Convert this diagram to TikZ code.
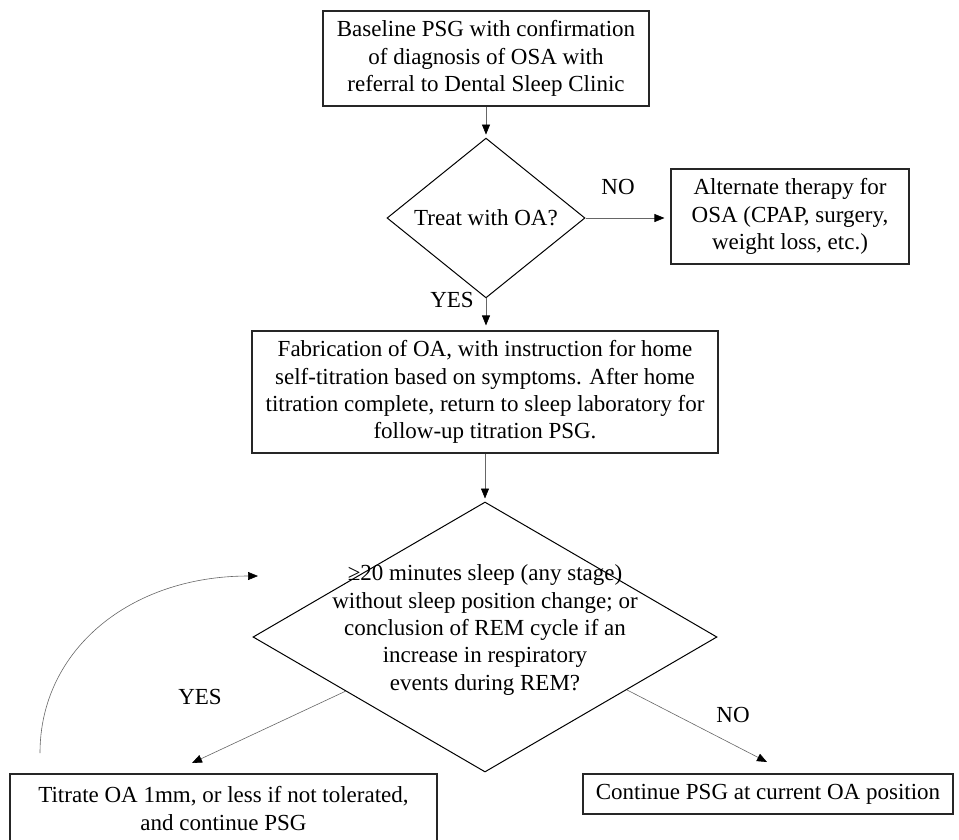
\documentclass[tikz,border=0pt]{standalone}
\usepackage{fontspec}
\setmainfont{Liberation Serif}
\usetikzlibrary{arrows.meta,shapes.geometric,calc}
\newcommand\dgfont{\fontsize{23pt}{27.3pt}\selectfont}
\begin{document}
\begin{tikzpicture}[x=1pt,y=-1pt,
  box/.style={draw=black!85, line width=1.1pt, inner sep=0pt, align=center, font=\dgfont},
  dia/.style={draw=black, line width=1pt, diamond, inner sep=0pt, align=center, font=\dgfont},
  lbl/.style={inner sep=0pt, font=\dgfont},
  conn/.style={draw=black!60, line width=0.6pt, -{Triangle[length=10pt,width=8pt,color=black]}},
]
\useasboundingbox (0,0) rectangle (959,839);

\node[box, minimum width=326pt, minimum height=95pt] (top) at (486,58.5)
  {Baseline PSG with confirmation\\of diagnosis of OSA with\\referral to Dental Sleep Clinic};
\node[dia, minimum width=198pt, minimum height=118pt] (d1) at (486,218) {Treat with OA?};
\node[box, minimum width=238pt, minimum height=95pt] (alt) at (790,216.5)
  {Alternate therapy for\\OSA (CPAP, surgery,\\weight loss, etc.)};
\node[box, minimum width=466pt, minimum height=122pt] (fab) at (485,392)
  {Fabrication of OA, with instruction for home\\self-titration based on symptoms. After home\\titration complete, return to sleep laboratory for\\follow-up titration PSG.};
\node[dia, minimum width=464pt, minimum height=270pt] (d2) at (485,637) {};
\node[lbl, align=center] (d2t) at (485,630)
  {≥20 minutes sleep (any stage)\\without sleep position change; or\\conclusion of REM cycle if an\\increase in respiratory\\events during REM?};
\node[box, minimum width=427pt, minimum height=69pt] (tit) at (223.5,808.5)
  {Titrate OA 1mm, or less if not tolerated,\\and continue PSG};
\node[box, minimum width=370pt, minimum height=40pt] (cont) at (768,794)
  {Continue PSG at current OA position};

\node[lbl] (no1) at (618,187) {NO};
\node[lbl] (yes1) at (452,300) {YES};
\node[lbl] (yes2) at (200,697) {YES};
\node[lbl] (no2) at (733,715) {NO};

\coordinate (yestip) at (192,763);
\coordinate (notip) at (767,762);
\coordinate (loopstart) at (40,753);
\coordinate (looptip) at (258,576);

\draw[conn, shorten >=3pt] (top.south) -- (d1.north);
\draw[conn, shorten >=6pt] (d1.east) -- (alt.west |- d1.east);
\draw[conn, shorten >=5pt] (d1.south) -- (fab.north -| d1.south);
\draw[conn, shorten >=3pt] (fab.south -| d2.north) -- (d2.north);
\draw[conn] ($(d2.west)!0.4!(d2.south)$) -- (yestip);
\draw[conn] ($(d2.east)!0.39!(d2.south)$) -- (notip);
\draw[conn] (loopstart) .. controls (40,650) and (130,576) .. (looptip);
\end{tikzpicture}
\end{document}
